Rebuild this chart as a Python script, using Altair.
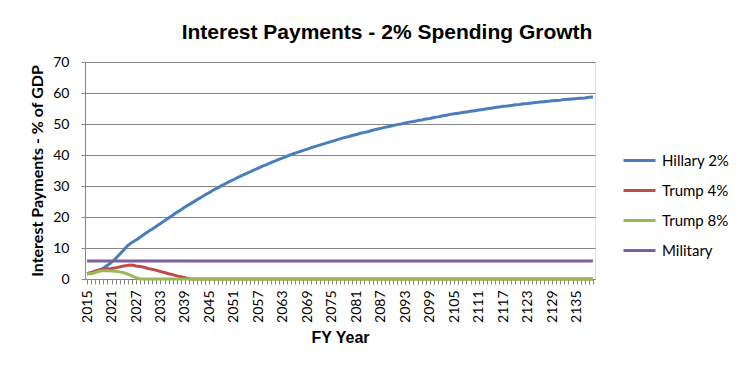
import altair as alt
import pandas as pd

years = list(range(2015, 2140))

hillary = [
    1.7, 2.0, 2.4, 2.9, 3.5, 4.4, 5.4, 6.6, 8.0, 9.4,
    10.8, 11.8, 12.6, 13.5, 14.4, 15.3, 16.1, 17.0, 17.9, 18.8,
    19.7, 20.6, 21.5, 22.3, 23.2, 24.0, 24.8, 25.6, 26.4, 27.2,
    27.9, 28.7, 29.4, 30.1, 30.8, 31.5, 32.1, 32.8, 33.4, 34.0,
    34.6, 35.2, 35.8, 36.4, 36.9, 37.5, 38.0, 38.6, 39.1, 39.6,
    40.1, 40.6, 41.0, 41.5, 41.9, 42.4, 42.8, 43.2, 43.6, 44.0,
    44.4, 44.8, 45.2, 45.6, 45.9, 46.3, 46.6, 47.0, 47.3, 47.6,
    48.0, 48.3, 48.6, 48.9, 49.2, 49.5, 49.8, 50.0, 50.3, 50.6,
    50.8, 51.1, 51.3, 51.6, 51.8, 52.1, 52.3, 52.6, 52.8, 53.1,
    53.3, 53.5, 53.7, 53.9, 54.1, 54.3, 54.5, 54.7, 54.9, 55.1,
    55.3, 55.5, 55.7, 55.8, 56.0, 56.2, 56.3, 56.5, 56.6, 56.8,
    56.9, 57.1, 57.2, 57.3, 57.5, 57.6, 57.7, 57.9, 58.0, 58.1,
    58.2, 58.3, 58.4, 58.6, 58.7,
]

trump4 = [
    1.7, 2.0, 2.5, 2.9, 3.1, 3.3, 3.4, 3.6, 3.9, 4.2,
    4.4, 4.5, 4.2, 4.0, 3.8, 3.4, 3.1, 2.8, 2.4, 2.1,
    1.7, 1.4, 1.0, 0.7, 0.4, 0.1,
] + [0.0] * 99

trump8 = [
    1.7, 1.7, 2.1, 2.5, 2.7, 2.7, 2.6, 2.5, 2.3, 2.0,
    1.6, 1.0, 0.4,
] + [0.0] * 112

military = [5.8] * 125

series_names = ["Hillary 2%", "Trump 4%", "Trump 8%", "Military"]
series_colors = ["#4A7EBB", "#BE4B48", "#98B954", "#7D60A0"]
series_values = [hillary, trump4, trump8, military]

y_ticks = [0, 10, 20, 30, 40, 50, 60, 70]

rows = []
for name, vals in zip(series_names, series_values):
    for yr, v in zip(years, vals):
        rows.append({"year": yr, "series": name, "value": v})
df = pd.DataFrame(rows)

grey = "#868686"

chart = alt.Chart(df).mark_line(strokeWidth=3, strokeJoin="round").encode(
    x=alt.X(
        "year:Q",
        scale=alt.Scale(domain=[2014.5, 2139.5], nice=False, zero=False),
        axis=alt.Axis(
            title="FY Year",
            values=years,
            format="d",
            labelExpr="(datum.value - 2015) % 6 == 0 ? datum.label : ''",
            labelAngle=-90,
            labelOverlap=False,
            labelFlush=False,
            labelFont="Lato",
            labelFontSize=14,
            labelColor="#000000",
            labelPadding=6,
            tickSize=5,
            tickColor=grey,
            domainColor=grey,
            grid=False,
            titleFont="Liberation Sans",
            titleFontSize=16,
            titleFontWeight="bold",
            titleColor="#000000",
            titlePadding=7,
        ),
    ),
    y=alt.Y(
        "value:Q",
        scale=alt.Scale(domain=[0, 70], nice=False),
        axis=alt.Axis(
            title="Interest Payments - % of GDP",
            values=y_ticks,
            labelFont="Lato",
            labelFontSize=14,
            labelColor="#000000",
            labelPadding=12,
            tickSize=4,
            tickColor=grey,
            domainColor=grey,
            gridColor=grey,
            gridWidth=1,
            titleFont="Lato",
            titleFontSize=16,
            titleFontWeight="bold",
            titleColor="#000000",
            titlePadding=7,
        ),
    ),
    color=alt.Color(
        "series:N",
        scale=alt.Scale(domain=series_names, range=series_colors),
        legend=alt.Legend(
            title=None,
            orient="none",
            legendX=537,
            legendY=81,
            symbolType="stroke",
            symbolSize=1024,
            symbolStrokeWidth=3,
            labelFont="Lato",
            labelFontSize=15,
            labelColor="#000000",
            labelOffset=5,
            rowPadding=4,
        ),
    ),
    detail="series:N",
).properties(
    width=510,
    height=217,
    title=alt.TitleParams(
        text="Interest Payments - 2% Spending Growth",
        font="Liberation Sans",
        fontSize=21,
        fontWeight="bold",
        color="#000000",
        anchor="middle",
        offset=12,
        dx=47,
    ),
    autosize=alt.AutoSizeParams(type="none"),
    padding={"left": 77, "top": 54, "right": 149, "bottom": 87},
).configure_view(stroke=None).configure(background="#ffffff")

chart.save("out.html", embed_options={"renderer": "svg", "actions": False})
